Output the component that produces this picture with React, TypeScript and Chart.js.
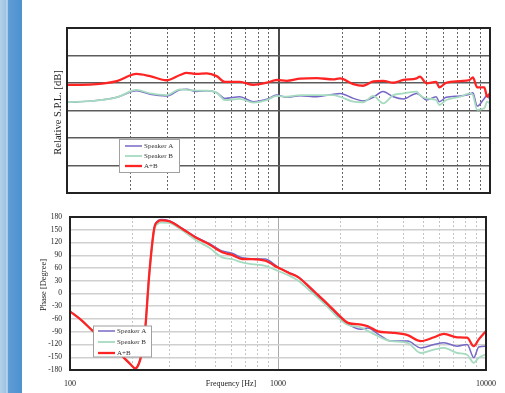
import React, { useEffect, useRef } from 'react';
import { Chart, registerables } from 'chart.js';

Chart.register(...registerables);

// ---------- data ----------
const seriesLabels = ['Speaker A', 'Speaker B', 'A+B'];

const splFreq = [100, 133, 172, 213, 247, 296, 342, 368, 410, 458, 510, 558, 657, 760, 880, 982, 1092, 1267, 1517, 1814, 1953, 2258, 2512, 2808, 3123, 3489, 3892, 4499, 4662, 5006, 5564, 5760, 6200, 7240, 8000, 8300, 8700, 9400, 9700, 10000];
const splSpeakerA = [33.0, 33.5, 34.8, 37.2, 35.9, 35.3, 37.5, 37.7, 36.9, 37.2, 36.5, 34.4, 35.0, 33.2, 34.1, 35.6, 34.8, 35.4, 35.0, 35.9, 36.2, 34.4, 33.5, 34.8, 36.9, 35.0, 34.2, 36.2, 35.6, 33.8, 35.0, 33.2, 34.8, 35.3, 35.9, 36.5, 31.6, 34.4, 35.6, 33.8];
const splSpeakerB = [33.0, 33.5, 34.8, 37.5, 36.2, 35.6, 37.7, 37.5, 37.2, 37.2, 36.5, 33.8, 34.2, 32.9, 33.8, 35.3, 35.0, 35.6, 35.6, 35.6, 35.0, 33.2, 33.0, 35.3, 32.6, 35.6, 36.2, 36.9, 35.6, 34.4, 33.8, 32.0, 33.8, 35.0, 36.2, 35.6, 30.2, 30.8, 33.2, 32.6];
const splSum = [39.3, 39.5, 40.7, 43.3, 42.5, 41.0, 42.9, 43.7, 43.3, 43.5, 42.5, 40.4, 40.4, 39.3, 40.1, 41.1, 40.8, 41.6, 41.8, 41.3, 41.7, 39.6, 39.0, 40.6, 40.8, 40.1, 41.1, 41.7, 42.3, 39.9, 40.4, 38.4, 40.1, 40.7, 41.1, 42.0, 38.4, 38.4, 35.0, 36.4];

const phaseFreq = [100, 113, 130, 157, 178, 195, 206, 214, 222, 228, 241, 254, 264, 274, 300, 347, 402, 466, 539, 602, 672, 750, 869, 1000, 1122, 1253, 1398, 1561, 1742, 1944, 2170, 2512, 2704, 3019, 3493, 4198, 4857, 5626, 6282, 7273, 8115, 8736, 9229, 10000];
const phaseSpeakerA = [-42, -62, -90, -122, -147, -166, -177, -164, -135, -103, 53, 155, 171, 174, 171, 153, 133, 118, 100, 95, 84, 82, 81, 62, 50, 39, 17, -8, -28, -52, -72, -84, -81, -95, -112, -112, -128, -120, -116, -124, -120, -151, -126, -124];
const phaseSpeakerB = [-42, -62, -90, -122, -147, -166, -177, -166, -138, -106, 48, 148, 164, 167, 166, 148, 126, 108, 85, 81, 73, 69, 65, 53, 43, 30, 10, -11, -33, -57, -74, -80, -88, -100, -112, -116, -140, -132, -128, -140, -144, -163, -151, -143];
const phaseSum = [-42, -62, -90, -122, -147, -166, -176, -166, -138, -105, 51, 153, 169, 172, 170, 152, 132, 116, 97, 91, 81, 81, 77, 61, 49, 38, 18, -4, -26, -49, -69, -73, -77, -89, -92, -98, -112, -103, -95, -103, -104, -124, -108, -88];

const gridFreqs = [100, 200, 300, 400, 500, 600, 700, 800, 900, 1000, 2000, 3000, 4000, 5000, 6000, 7000, 8000, 9000, 10000];
const majorFreqs = [100, 1000, 10000];
const xTickLabels = ['100', '1000', '10000'];
const splGridLevels = [0, 10, 20, 30, 40, 50, 60];
const phaseTicks = [180, 150, 120, 90, 60, 30, 0, -30, -60, -90, -120, -150, -180];

const splTitle = 'Relative S.P.L. [dB]';
const phaseTitle = 'Phase [Degree]';
const freqTitle = 'Frequency [Hz]';

// ---------- styles ----------
const FONT = "'Liberation Serif', 'DejaVu Serif', serif";
const COLORS = ['#7668c6', '#a6dbc0', '#ff2424'];
const WIDTHS = [1.5, 1.8, 2.3];

function toPoints(xs: number[], ys: number[]) {
  return xs.map((x, i) => ({ x, y: ys[i] }));
}

function makeDatasets(xs: number[], a: number[], b: number[], s: number[]) {
  const ys = [a, b, s];
  return ys.map((arr, i) => ({
    label: seriesLabels[i],
    data: toPoints(xs, arr),
    borderColor: COLORS[i],
    backgroundColor: COLORS[i],
    borderWidth: WIDTHS[i],
    pointRadius: 0,
    cubicInterpolationMode: 'monotone' as const,
    fill: false,
    order: 2 - i,
  }));
}

type OverlayOpts = {
  yTitle: string;
  yTitleX: number;
  yTitleY: number;
  yTitleSize: number;
  xTitle?: string;
  xTitleX?: number;
  xTitleY?: number;
  legend: { x: number; y: number; w: number; h: number; rows: number[]; lx1: number; lx2: number; tx: number };
};

function overlayPlugin(o: OverlayOpts) {
  return {
    id: 'overlay',
    afterDraw(chart: any) {
      const ctx = chart.ctx as CanvasRenderingContext2D;
      const a = chart.chartArea;
      ctx.save();
      const L = o.legend;
      ctx.fillStyle = '#ffffff';
      ctx.fillRect(L.x, L.y, L.w, L.h);
      ctx.strokeStyle = '#a0a0a0';
      ctx.lineWidth = 1;
      ctx.strokeRect(L.x, L.y, L.w, L.h);
      chart.data.datasets.forEach((ds: any, i: number) => {
        const y = L.rows[i];
        ctx.strokeStyle = ds.borderColor;
        ctx.lineWidth = ds.borderWidth;
        ctx.beginPath();
        ctx.moveTo(L.lx1, y);
        ctx.lineTo(L.lx2, y);
        ctx.stroke();
        ctx.fillStyle = '#333';
        ctx.font = `7px ${FONT}`;
        ctx.textAlign = 'left';
        ctx.textBaseline = 'middle';
        ctx.fillText(ds.label, L.tx, y + 0.5);
      });
      ctx.strokeStyle = '#222';
      ctx.lineWidth = 2;
      ctx.strokeRect(a.left, a.top, a.right - a.left, a.bottom - a.top);
      ctx.save();
      ctx.translate(o.yTitleX, o.yTitleY);
      ctx.rotate(-Math.PI / 2);
      ctx.fillStyle = '#222';
      ctx.font = `${o.yTitleSize}px ${FONT}`;
      ctx.textAlign = 'center';
      ctx.textBaseline = 'middle';
      ctx.fillText(o.yTitle, 0, 0);
      ctx.restore();
      if (o.xTitle) {
        ctx.fillStyle = '#222';
        ctx.font = `8px ${FONT}`;
        ctx.textAlign = 'center';
        ctx.textBaseline = 'middle';
        ctx.fillText(o.xTitle, o.xTitleX!, o.xTitleY!);
      }
      ctx.restore();
    },
  };
}

function logAxes(minorColor: string, majorColor: string, majorWidth: number, showLabels: boolean, axisHeight: number) {
  return {
    x: {
      type: 'logarithmic' as const,
      min: 100,
      max: 10000,
      position: 'bottom' as const,
      afterBuildTicks: (s: any) => {
        s.ticks = gridFreqs.map((v) => ({ value: v }));
      },
      afterFit: (s: any) => {
        s.height = axisHeight;
      },
      ticks: {
        display: showLabels,
        autoSkip: false,
        maxRotation: 0,
        minRotation: 0,
        padding: 9,
        color: '#222',
        font: { family: FONT, size: 8 },
        callback: (v: any) => {
          const i = majorFreqs.indexOf(Number(v));
          return i >= 0 ? xTickLabels[i] : '';
        },
      },
      grid: {
        drawTicks: false,
        lineWidth: 1,
        color: (c: any) => (c.tick && majorFreqs.includes(c.tick.value) ? 'rgba(0,0,0,0)' : minorColor),
      },
      border: { display: false, dash: [2, 2] },
    },
    xMajor: {
      type: 'logarithmic' as const,
      min: 100,
      max: 10000,
      position: 'bottom' as const,
      afterBuildTicks: (s: any) => {
        s.ticks = majorFreqs.map((v) => ({ value: v }));
      },
      afterFit: (s: any) => {
        s.height = 0;
      },
      ticks: { display: false },
      grid: { drawTicks: false, lineWidth: majorWidth, color: majorColor },
      border: { display: false },
    },
  };
}

export default function App() {
  const topRef = useRef<HTMLCanvasElement | null>(null);
  const botRef = useRef<HTMLCanvasElement | null>(null);

  useEffect(() => {
    const top = new Chart(topRef.current!, {
      type: 'line',
      data: { datasets: makeDatasets(splFreq, splSpeakerA, splSpeakerB, splSum) as any },
      options: {
        animation: false,
        responsive: false,
        layout: { padding: { left: 0, right: 15, top: 28, bottom: 7 } },
        plugins: { legend: { display: false }, tooltip: { enabled: false } },
        scales: {
          ...logAxes('#666666', '#4a4a4a', 2, false, 0),
          y: {
            min: 0,
            max: 60,
            afterBuildTicks: (s: any) => {
              s.ticks = splGridLevels.map((v) => ({ value: v }));
            },
            afterFit: (s: any) => {
              s.width = 67;
            },
            ticks: { display: false },
            grid: { drawTicks: false, color: '#5c5c5c', lineWidth: 1.5 },
            border: { display: false },
          },
        } as any,
      },
      plugins: [
        overlayPlugin({
          yTitle: splTitle,
          yTitleX: 58,
          yTitleY: 112.5,
          yTitleSize: 10.5,
          legend: { x: 119.5, y: 139.5, w: 60, h: 33, rows: [146, 156, 166], lx1: 125, lx2: 142, tx: 144 },
        }),
      ],
    });

    const bot = new Chart(botRef.current!, {
      type: 'line',
      data: { datasets: makeDatasets(phaseFreq, phaseSpeakerA, phaseSpeakerB, phaseSum) as any },
      options: {
        animation: false,
        responsive: false,
        layout: { padding: { left: 0, right: 16, top: 17, bottom: 0 } },
        plugins: { legend: { display: false }, tooltip: { enabled: false } },
        scales: {
          ...logAxes('#c4c4c4', '#aaaaaa', 1, true, 23),
          y: {
            min: -180,
            max: 180,
            afterBuildTicks: (s: any) => {
              s.ticks = phaseTicks.map((v) => ({ value: v }));
            },
            afterFit: (s: any) => {
              s.width = 70;
            },
            ticks: { padding: 8, color: '#222', font: { family: FONT, size: 7.5 } },
            grid: { drawTicks: false, color: '#d0d0d0', lineWidth: 1.5 },
            border: { display: false },
          },
        } as any,
      },
      plugins: [
        overlayPlugin({
          yTitle: phaseTitle,
          yTitleX: 44,
          yTitleY: 85,
          yTitleSize: 8.5,
          xTitle: freqTitle,
          xTitleX: 231,
          xTitleY: 183.5,
          legend: { x: 93.5, y: 126, w: 58, h: 31, rows: [131, 142, 153], lx1: 98, lx2: 115, tx: 117 },
        }),
      ],
    });

    return () => {
      top.destroy();
      bot.destroy();
    };
  }, []);

  return (
    <div style={{ position: 'absolute', left: 0, top: 0, width: 505, height: 393, background: '#ffffff', overflow: 'hidden' }}>
      <div
        style={{
          position: 'absolute',
          left: 0,
          top: 0,
          width: 22,
          height: 393,
          background: 'linear-gradient(to right, #b3d1ea 0px, #9cc3e2 6px, #cfe2f2 7px, #5e9dd5 8.5px, #4c91d0 22px)',
        }}
      />
      <canvas ref={topRef} width={505} height={200} style={{ position: 'absolute', left: 0, top: 0, width: 505, height: 200 }} />
      <canvas ref={botRef} width={505} height={193} style={{ position: 'absolute', left: 0, top: 200, width: 505, height: 193 }} />
    </div>
  );
}
